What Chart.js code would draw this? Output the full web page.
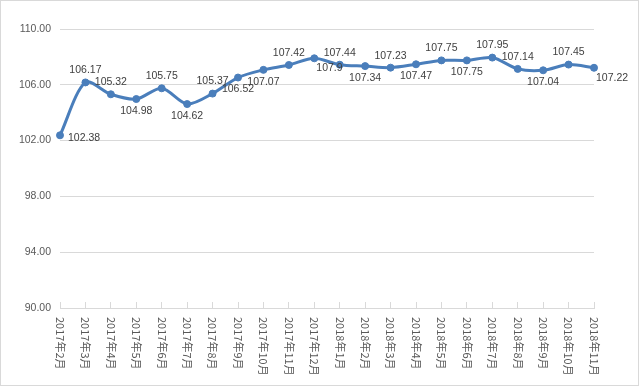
<!DOCTYPE html>
<html>
<head>
<meta charset="utf-8">
<script src="https://cdn.jsdelivr.net/npm/chart.js@4/dist/chart.umd.min.js"></script>
<style>
  html, body { margin: 0; padding: 0; background: #fff; }
  #wrap { width: 643px; height: 389px; }
</style>
</head>
<body>
<div id="wrap"><canvas id="c" width="643" height="389"></canvas></div>
<script>
const LINE = "#4a7ebb";
const GRID = "#d9d9d9";
const AXIS_TEXT = "#595959";
const LABEL_TEXT = "#404040";

const months = [
  "2017年2月", "2017年3月", "2017年4月", "2017年5月", "2017年6月", "2017年7月",
  "2017年8月", "2017年9月", "2017年10月", "2017年11月", "2017年12月", "2018年1月",
  "2018年2月", "2018年3月", "2018年4月", "2018年5月", "2018年6月", "2018年7月",
  "2018年8月", "2018年9月", "2018年10月", "2018年11月",
];
const values = [
  102.38, 106.17, 105.32, 104.98, 105.75, 104.62, 105.37, 106.52, 107.07, 107.42, 107.9,
  107.44, 107.34, 107.23, 107.47, 107.75, 107.75, 107.95, 107.14, 107.04, 107.45, 107.22,
];
// where each value label sits: a = above, b = below, r = right, rb = right and below
const labelPos = [
  "r", "a", "a", "b", "a", "b", "a", "b", "b", "a", "rb",
  "a", "b", "a", "b", "a", "b", "a", "a", "b", "a", "rb",
];

const NUM_FONT = "10.5px 'Liberation Sans', Arial, sans-serif";
const CJK_FONT = "11px 'Noto Sans CJK SC', sans-serif";

const decor = {
  id: "decor",
  beforeDraw(chart) {
    const ctx = chart.ctx;
    ctx.save();
    ctx.fillStyle = "#fff";
    ctx.fillRect(0, 0, chart.width, chart.height);
    ctx.strokeStyle = GRID;
    ctx.lineWidth = 1;
    ctx.strokeRect(0.5, 0.5, 638, 385);
    ctx.restore();
  },
  afterDraw(chart) {
    const ctx = chart.ctx;
    const x = chart.scales.x;
    ctx.save();
    // rotated month labels, reading top to bottom
    ctx.font = CJK_FONT;
    ctx.fillStyle = AXIS_TEXT;
    ctx.textAlign = "left";
    ctx.textBaseline = "middle";
    x.ticks.forEach((t, i) => {
      ctx.save();
      ctx.translate(x.getPixelForTick(i), x.top + 9);
      ctx.rotate(Math.PI / 2);
      ctx.fillText(months[i], 0, 0);
      ctx.restore();
    });
    // value labels
    ctx.font = NUM_FONT;
    ctx.fillStyle = LABEL_TEXT;
    const meta = chart.getDatasetMeta(0);
    meta.data.forEach((pt, i) => {
      const txt = String(values[i]);
      const p = labelPos[i];
      if (p === "a") {
        ctx.textAlign = "center";
        ctx.fillText(txt, pt.x, pt.y - 12);
      } else if (p === "b") {
        ctx.textAlign = "center";
        ctx.fillText(txt, pt.x, pt.y + 12);
      } else if (p === "r") {
        ctx.textAlign = "left";
        ctx.fillText(txt, pt.x + 8, pt.y + 3);
      } else {
        ctx.textAlign = "left";
        ctx.fillText(txt, pt.x + 2, pt.y + 10);
      }
    });
    ctx.restore();
  },
};

new Chart(document.getElementById("c"), {
  type: "line",
  data: {
    labels: months,
    datasets: [{
      data: values,
      borderColor: LINE,
      backgroundColor: LINE,
      borderWidth: 3,
      pointRadius: 3.5,
      pointBorderWidth: 1,
      pointBackgroundColor: LINE,
      pointBorderColor: LINE,
      tension: 0.3,
      clip: false,
    }],
  },
  options: {
    responsive: false,
    animation: false,
    layout: { padding: { top: 29, right: 49, bottom: 0, left: 0 } },
    plugins: { legend: { display: false }, tooltip: { enabled: false } },
    scales: {
      x: {
        offset: false,
        grid: { drawOnChartArea: false, color: GRID, tickLength: -6 },
        border: { color: GRID },
        ticks: { display: false, autoSkip: false },
        afterFit: (s) => { s.height = 81; },
      },
      y: {
        min: 90,
        max: 110,
        grid: { color: GRID, drawTicks: false },
        border: { display: false },
        ticks: {
          stepSize: 4,
          color: AXIS_TEXT,
          font: { family: "'Liberation Sans', Arial, sans-serif", size: 10.5 },
          padding: 9,
          callback: (v) => v.toFixed(2),
        },
        afterFit: (s) => { s.width = 60; },
      },
    },
  },
  plugins: [decor],
});
</script>
</body>
</html>
